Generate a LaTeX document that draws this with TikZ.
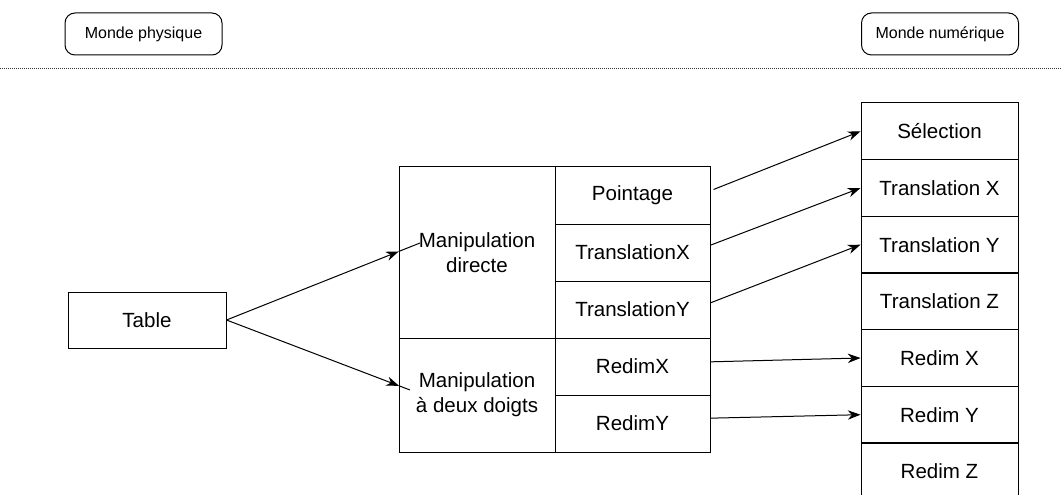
\documentclass[tikz,border=0pt]{standalone}
\usepackage{fontspec}
\setmainfont{Liberation Sans}
\usetikzlibrary{arrows.meta,calc}
\begin{document}
\begin{tikzpicture}[x=0.75pt,y=-0.75pt,
  cell/.style={draw, line width=0.75pt, inner sep=0pt, align=center,
    font=\fontsize{15.4}{18.75}\selectfont},
  smallcell/.style={cell, minimum width=116.25pt, minimum height=42.75pt},
  rightcell/.style={cell, minimum width=117.75pt, minimum height=42.5pt},
  worldbox/.style={draw, line width=0.75pt, rounded corners=7.5pt, inner sep=0pt,
    minimum width=117.75pt, minimum height=31.5pt, font=\fontsize{12}{14}\selectfont},
  arr/.style={line width=0.75pt, -{Stealth[length=9.5pt, width=7pt, inset=3pt]}},
  plain/.style={line width=0.75pt}]
\useasboundingbox (0,0) rectangle (1062,495);

% top labels and separator
\node[worldbox] (phys) at (143.5,34) {Monde physique};
\node[worldbox] (num) at (940,34) {Monde numérique};
\coordinate (sepL) at (0,68);
\coordinate (sepR) at (1062,68);
\draw[line width=0.6pt, dash pattern=on 0.75pt off 0.75pt, black!80] (sepL) -- (sepR);

% Table
\node[cell, minimum width=118.5pt, minimum height=42pt] (tab) at (147,320) {Table};

% manipulation block
\node[cell, minimum width=117pt, minimum height=128.25pt] (md) at (477,252.5) {Manipulation\\directe};
\node[cell, minimum width=117pt, minimum height=85.5pt] (mdd) at (477,395) {Manipulation\\à deux doigts};

\node[smallcell] (pt) at (632.5,195.5) {Pointage};
\node[smallcell] (tx) at (632.5,252.5) {TranslationX};
\node[smallcell] (ty) at (632.5,309.5) {TranslationY};
\node[smallcell] (rx) at (632.5,366.5) {RedimX};
\node[smallcell] (ry) at (632.5,423.5) {RedimY};

% right column
\node[rightcell] (sel) at (939.5,131.3) {Sélection};
\node[rightcell] (rtx) at (939.5,188) {Translation X};
\node[rightcell] (rty) at (939.5,244.7) {Translation Y};
\node[rightcell] (rtz) at (939.5,301.3) {Translation Z};
\node[rightcell] (rrx) at (939.5,358) {Redim X};
\node[rightcell] (rry) at (939.5,414.7) {Redim Y};
\node[rightcell] (rrz) at (939.5,471.3) {Redim Z};

% arrows from Table
\coordinate (c1) at (420,243);
\coordinate (c2) at (410,390);
\path (tab.east) -- coordinate[pos=0.89] (m1) (c1);
\path (tab.east) -- coordinate[pos=0.94] (m2) (c2);
\draw[arr] (tab.east) -- (m1);
\draw[plain] (m1) -- (c1);
\draw[arr] (tab.east) -- (m2);
\draw[plain] (m2) -- (c2);

% arrows to digital world
\draw[arr] ([xshift=2.25pt,yshift=4.5pt]pt.east) -- (sel.west);
\draw[arr] ([yshift=5.5pt]tx.east) -- (rtx.west);
\draw[arr] ([yshift=5pt]ty.east) -- (rty.west);
\draw[arr] ([yshift=3.5pt]rx.east) -- (rrx.west);
\draw[arr] ([yshift=4pt]ry.east) -- (rry.west);
\end{tikzpicture}
\end{document}
